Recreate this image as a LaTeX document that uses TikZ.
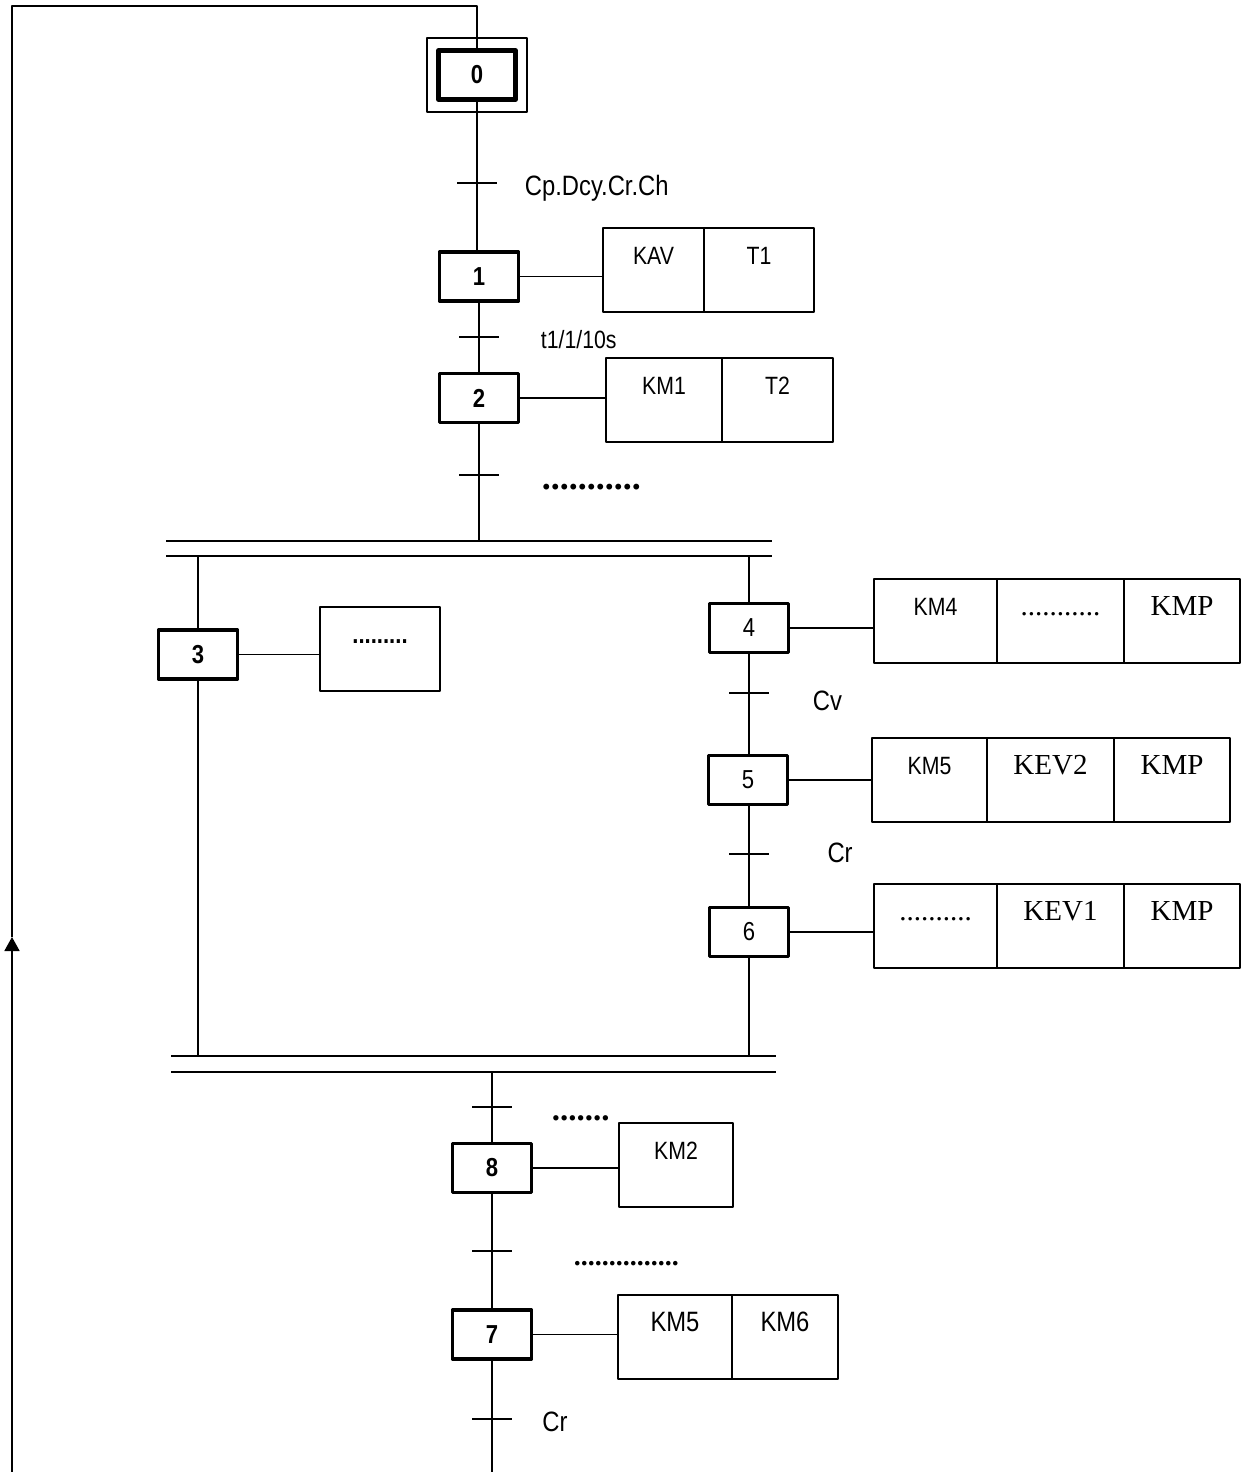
\documentclass[tikz,border=0pt]{standalone}
\usepackage{fontspec}
\setmainfont{Liberation Sans}[FakeStretch=0.85]
\newfontfamily\tnr{Liberation Serif}
\usetikzlibrary{arrows.meta}
\begin{document}
\begin{tikzpicture}[x=0.5pt,y=-0.5pt,line join=round,line width=0.9pt,
    etape/.style={draw,line width=1.75pt,minimum width=39.5pt,minimum height=24.5pt,inner sep=0pt,font=\fontsize{13}{15}\selectfont\bfseries},
    act/.style={draw,line width=0.9pt,anchor=north west,inner sep=0pt,outer sep=0pt,text height=18pt,text depth=24pt,font=\fontsize{12.5}{15}\selectfont},
    tms/.style={font=\tnr\fontsize{14.5}{17}\selectfont},
    lbl/.style={anchor=base west,inner sep=0pt,font=\fontsize{14}{16}\selectfont},
    pts/.style={anchor=base west,inner sep=0pt,font=\tnr\bfseries\fontsize{#1}{#1}\selectfont}]
    \useasboundingbox (0,0) rectangle (1241,1472);
    % etapes
    \node[draw,line width=0.8pt,minimum width=49.75pt,minimum height=36.75pt] (s0out) at (477,75) {};
    \node[etape,line width=2.2pt,minimum width=38.5pt] (s0) at (477,75) {0};
    \node[etape] (s1) at (479,276.5) {1};
    \node[etape] (s2) at (479,398) {2};
    \node[etape] (s3) at (198,654.5) {3};
    \node[etape,font=\fontsize{13}{15}\selectfont] (s4) at (749,628) {4};
    \node[etape,font=\fontsize{13}{15}\selectfont] (s5) at (748,780) {5};
    \node[etape,font=\fontsize{13}{15}\selectfont] (s6) at (749,932) {6};
    \node[etape] (s8) at (492,1168) {8};
    \node[etape] (s7) at (492,1334.5) {7};
    % actions
    \node[act,minimum width=50.5pt] (a1a) at (603,228) {KAV};
    \node[act,minimum width=55pt] (a1b) at (a1a.north east) {T1};
    \node[act,minimum width=58pt] (a2a) at (606,358) {KM1};
    \node[act,minimum width=55.5pt] (a2b) at (a2a.north east) {T2};
    \node[act,minimum width=60pt,font=\bfseries\fontsize{13}{15}\selectfont] (a3) at (320,607) {.........};
    \node[act,minimum width=61.5pt] (a4a) at (874,579) {KM4};
    \node[act,tms,minimum width=63.5pt] (a4b) at (a4a.north east) {...........};
    \node[act,tms,minimum width=58pt] (a4c) at (a4b.north east) {KMP};
    \node[act,minimum width=57.5pt] (a5a) at (872,738) {KM5};
    \node[act,tms,minimum width=63.5pt] (a5b) at (a5a.north east) {KEV2};
    \node[act,tms,minimum width=58pt] (a5c) at (a5b.north east) {KMP};
    \node[act,tms,minimum width=61.5pt] (a6a) at (874,884) {..........};
    \node[act,tms,minimum width=63.5pt] (a6b) at (a6a.north east) {KEV1};
    \node[act,tms,minimum width=58pt] (a6c) at (a6b.north east) {KMP};
    \node[act,minimum width=57pt] (a8) at (619,1123) {KM2};
    \node[act,minimum width=57pt,font=\fontsize{14}{16}\selectfont] (a7a) at (618,1295) {KM5};
    \node[act,minimum width=53pt,font=\fontsize{14}{16}\selectfont] (a7b) at (a7a.north east) {KM6};
    \foreach \s/\a in {s1/a1a,s2/a2a,s3/a3,s4/a4a,s5/a5a,s6/a6a,s8/a8,s7/a7a}
        \draw (\s.east) -- (\s.east -| \a.west);
    % divergence / convergence en ET
    \coordinate (b1) at (0,541); \coordinate (b1b) at (0,556);
    \coordinate (b2) at (0,1056); \coordinate (b2b) at (0,1072);
    \draw (166,541) -- (772,541);
    \draw (166,556) -- (772,556);
    \draw (171,1056) -- (776,1056);
    \draw (171,1072) -- (776,1072);
    % liaisons
    \draw (s0.south) -- (s0.south |- s1.north);
    \draw (s1.south) -- (s2.north);
    \draw (s2.south) -- (s2.south |- b1);
    \draw (s3.north |- b1b) -- (s3.north);
    \draw (s3.south) -- (s3.south |- b2);
    \draw (s4.north |- b1b) -- (s4.north);
    \draw (s4.south) -- (s4.south |- s5.north);
    \draw (s5.south -| s4.south) -- (s4.south |- s6.north);
    \draw (s6.south) -- (s6.south |- b2);
    \draw (s8.north |- b2b) -- (s8.north);
    \draw (s8.south) -- (s7.north);
    % retour
    \coordinate (bas) at (12,1472);
    \coordinate (fl) at (12,937);
    \coordinate (haut) at (12,6);
    \draw (s7.south) -- (s7.south |- bas);
    \draw[-{Triangle[width=7.5pt,length=7pt]}] (bas) -- (fl);
    \draw (fl) -- (haut) -| (s0.north);
    % transitions
    \foreach \x/\y in {477/183,479/337,479/475,749/693,749/854,492/1107,492/1251,492/1419}
        \draw (\x-20,\y) -- (\x+20,\y);
    \node[lbl] (r1) at (524,195) {Cp.Dcy.Cr.Ch};
    \node[lbl,font=\fontsize{12.5}{15}\selectfont] (r2) at (540,348) {t1/1/10s};
    \node[pts=18] (r3) at (541,489) {...........};
    \node[lbl] (r4) at (812,710) {Cv};
    \node[lbl] (r5) at (826.6,862.7) {Cr};
    \node[pts=16.5] (r6) at (551,1120) {.......};
    \node[pts=14] (r7) at (573,1265) {...............};
    \node[lbl] (r8) at (541.5,1431.7) {Cr};
\end{tikzpicture}
\end{document}
